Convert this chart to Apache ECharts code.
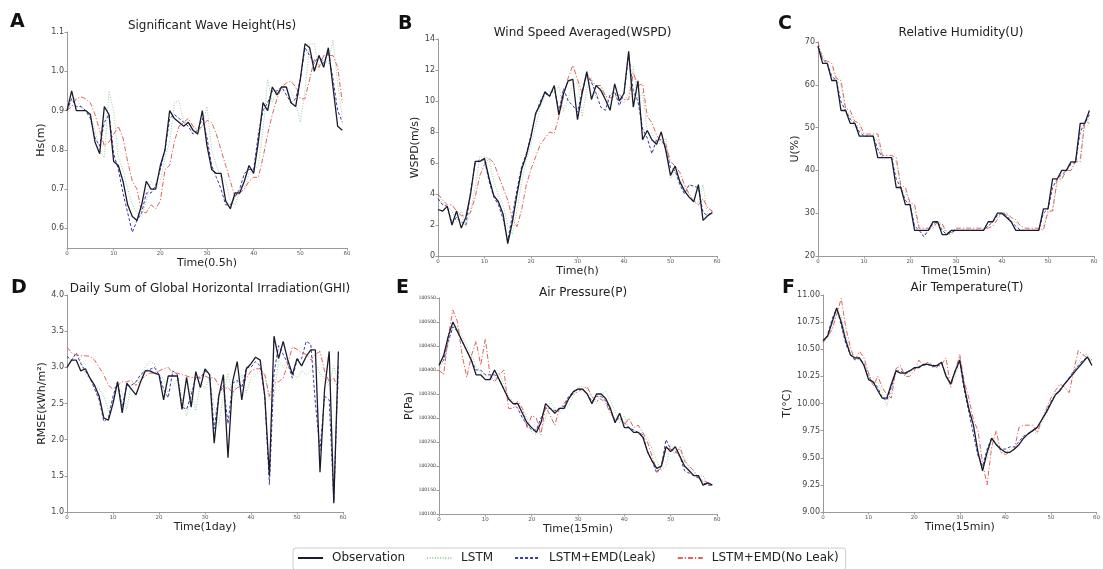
<!DOCTYPE html>
<html><head><meta charset="utf-8">
<script src="https://cdn.jsdelivr.net/npm/echarts@6/dist/echarts.min.js"></script>
<style>html,body{margin:0;padding:0;background:#fff}#c{width:1103px;height:569px}</style>
</head><body><div id="c"></div>
<script>
// ---------- data ----------
const seriesNames = ['Observation','LSTM','LSTM+EMD(Leak)','LSTM+EMD(No Leak)'];
const panelTitles = ['Significant Wave Height(Hs)','Wind Speed Averaged(WSPD)','Relative Humidity(U)','Daily Sum of Global Horizontal Irradiation(GHI)','Air Pressure(P)','Air Temperature(T)'];
const panelLetters = ['A','B','C','D','E','F'];
const xNames = ['Time(0.5h)','Time(h)','Time(15min)','Time(1day)','Time(15min)','Time(15min)'];
const yNames = ['Hs(m)','WSPD(m/s)','U(%)','RMSE(kWh/m\u00B2)','P(Pa)','T(\u00B0C)'];
const xTicks = [0,10,20,30,40,50,60];
const A_ticks = [0.6,0.7,0.8,0.9,1.0,1.1];

const A_obs = [0.90,0.95,0.90,0.90,0.90,0.89,0.82,0.79,0.91,0.89, 0.77,0.76,0.72,0.66,0.63,0.62,0.66,0.72,0.70,0.70, 0.76,0.80,0.90,0.88,0.87,0.86,0.87,0.85,0.84,0.90, 0.81,0.75,0.74,0.74,0.67,0.65,0.69,0.69,0.72,0.76, 0.74,0.82,0.92,0.90,0.96,0.94,0.96,0.96,0.92,0.91, 0.98,1.07,1.06,1.00,1.04,1.01,1.06,0.96,0.86,0.85];
const A_lstm = [0.89,0.93,0.93,0.91,0.90,0.89,0.85,0.80,0.78,0.95, 0.90,0.78,0.75,0.70,0.66,0.64,0.63,0.67,0.72,0.70, 0.72,0.78,0.82,0.92,0.925,0.87,0.87,0.86,0.84,0.86, 0.91,0.80,0.76,0.73,0.72,0.67,0.66,0.69,0.70,0.74, 0.75,0.76,0.85,0.98,0.92,0.95,0.96,0.96,0.95,0.92, 0.87,0.95,1.07,1.07,1.01,1.03,1.02,1.08,0.97,0.88];
const A_leak = [0.90,0.93,0.91,0.91,0.90,0.88,0.83,0.81,0.87,0.89, 0.79,0.75,0.69,0.64,0.59,0.62,0.64,0.69,0.69,0.71, 0.75,0.80,0.88,0.89,0.88,0.87,0.86,0.84,0.85,0.88, 0.83,0.76,0.73,0.70,0.66,0.66,0.68,0.70,0.74,0.75, 0.75,0.84,0.90,0.92,0.95,0.95,0.96,0.94,0.92,0.93, 0.98,1.06,1.04,1.02,1.04,1.02,1.05,0.98,0.90,0.87];
const A_noleak = [0.90,0.91,0.93,0.935,0.93,0.92,0.89,0.85,0.81,0.82, 0.84,0.86,0.83,0.77,0.72,0.70,0.64,0.64,0.66,0.65, 0.67,0.75,0.76,0.82,0.86,0.87,0.88,0.86,0.85,0.86, 0.875,0.87,0.84,0.80,0.76,0.72,0.68,0.69,0.70,0.72, 0.73,0.73,0.78,0.84,0.89,0.93,0.96,0.97,0.975,0.96, 0.93,0.93,0.98,1.03,1.01,1.04,1.04,1.04,1.01,0.92];

const B_obs = [3.0,2.9,3.2,2.0,2.9,1.8,2.5,4.0,6.1,6.1, 6.3,5.0,3.9,3.5,2.7,0.8,2.2,4.0,5.6,6.5, 7.7,9.2,9.8,10.6,10.3,11.0,9.1,10.5,11.3,11.4, 8.8,10.5,11.9,10.1,11.0,10.7,10.1,9.4,11.1,10.0, 10.5,13.2,9.6,11.3,7.5,8.1,7.5,7.2,8.0,6.8, 5.2,5.8,4.8,4.2,3.8,3.5,4.6,2.3,2.6,2.8];
const B_lstm = [3.8,3.4,3.2,2.9,2.2,2.9,1.9,2.9,4.4,6.4, 6.4,6.3,4.8,3.9,3.3,2.0,1.4,3.0,4.8,6.2, 7.2,8.4,9.6,10.3,10.6,10.5,11.0,9.3,10.2,11.0, 11.2,9.0,10.8,11.5,10.2,10.8,10.5,9.6,10.6,10.2, 9.9,10.5,12.2,9.8,10.6,8.0,7.9,7.4,7.2,7.6, 5.0,5.5,5.0,4.4,4.0,3.6,3.4,4.6,2.6,2.8];
const B_leak = [3.7,3.3,3.2,2.1,2.5,2.2,2.0,4.1,6.0,6.2, 6.2,4.8,3.8,3.3,2.4,1.0,2.6,4.3,5.8,6.6, 7.8,9.1,10.0,10.5,10.3,10.9,9.3,10.8,10.0,9.7, 9.3,10.6,11.7,11.2,10.5,9.6,9.4,10.4,10.6,9.7, 10.5,13.0,10.6,10.0,8.2,7.6,6.6,7.5,7.5,7.0, 5.7,5.5,4.6,4.0,4.6,4.5,4.4,2.8,2.6,2.9];
const B_noleak = [4.0,3.6,3.3,3.3,2.9,2.6,2.6,2.8,3.8,5.2, 5.9,6.3,6.0,5.2,4.4,3.6,2.4,1.9,3.0,4.6, 5.6,6.4,7.2,7.6,8.0,7.9,9.0,10.3,11.5,12.3, 11.4,10.5,11.8,11.3,11.0,11.0,10.3,10.2,10.3,10.4, 10.1,10.1,11.8,11.0,11.1,9.0,8.6,7.8,7.4,7.2, 6.1,5.8,5.4,4.6,4.0,3.5,3.3,3.7,3.1,2.9];

const C_obs = [69,65,65,61,61,54,54,51,51,48, 48,48,48,43,43,43,43,36,36,32, 32,26,26,26,26,28,28,25,25,26, 26,26,26,26,26,26,26,28,28,30, 30,29,28,26,26,26,26,26,26,31, 31,38,38,40,40,42,42,51,51,54];
const C_lstm = [69,67,65,64,61,60,54,53,51,50, 48,48,48,47,43,43,43,42,36,35, 32,31,26,25,26,27,28,27,25,25, 26,26,26,26,26,26,26,27,28,29, 30,30,28,28,26,26,26,26,26,27, 30,31,37,38,40,40,42,43,51,52];
const C_leak = [69,66,65,62,61,56,54,52,51,49, 48,48,48,45,43,43,43,38,36,33, 32,27,26,24.5,26,27.5,28,26,25,25.5, 26,26,26,26,26,26,26,27,28,29.5, 30,29.5,28,27,26,26,26,26,26,30, 31,36,38,39,40,41.5,42,49,51,53];
const C_noleak = [70,66,65.5,65,61.5,61,54.5,54,51.5,51, 48.5,48.5,48.5,48.5,43.5,43.5,43.5,43,36.5,36, 32.5,32,26.5,26.5,26.5,26.5,28,27.5,25.5,25.5, 26.5,26.5,26.5,26.5,26.5,26.5,26.5,26.5,27,28.5, 30,30,29,28.5,27,26.5,26.5,26.5,26.5,26, 30.5,30.5,38,38,40,40,42,42,51.5,51];

const D_obs = [3.0,3.1,3.1,2.95,2.98,2.85,2.75,2.6,2.3,2.27, 2.5,2.8,2.37,2.78,2.7,2.62,2.8,2.95,2.95,2.92, 2.9,2.55,2.88,2.88,2.88,2.42,2.86,2.45,2.94,2.72, 2.98,2.9,1.95,2.6,2.9,1.75,2.8,3.08,2.55,2.98, 3.05,3.14,3.1,2.6,1.5,3.43,3.12,3.36,3.1,2.9, 3.12,3.02,3.15,3.24,3.24,1.55,2.7,3.22,1.12,3.22];
const D_lstm = [3.1,3.1,3.2,3.1,2.9,2.85,2.75,2.7,2.6,2.4, 2.55,2.75,2.65,2.42,2.78,2.8,2.85,3.0,3.08,3.05, 2.9,2.85,2.65,2.72,2.85,2.6,2.32,2.7,2.4,2.8, 2.7,2.85,2.45,2.2,2.6,2.92,2.6,2.82,2.9,2.65, 2.85,2.9,2.95,2.9,2.55,2.6,3.1,3.0,3.1,2.92, 2.85,2.95,2.9,2.95,3.05,2.92,2.85,2.75,3.02,2.78];
const D_leak = [3.15,3.1,3.2,3.05,2.95,2.85,2.7,2.55,2.25,2.3, 2.6,2.8,2.45,2.75,2.75,2.8,2.9,2.95,2.97,3.0, 2.9,2.7,2.58,2.95,2.9,2.45,2.42,2.62,2.86,2.85, 2.95,2.9,2.15,2.62,2.75,2.22,2.78,2.82,2.72,3.0, 3.0,3.08,3.02,2.6,1.38,2.92,3.3,3.18,3.05,2.85, 3.1,3.12,3.36,3.32,2.5,1.85,2.6,2.55,1.15,3.05];
const D_noleak = [3.28,3.2,3.17,3.16,3.16,3.15,3.1,3.0,2.9,2.75, 2.7,2.75,2.8,2.8,2.82,2.75,2.82,2.88,2.92,2.92, 2.95,2.98,3.0,2.92,2.92,2.9,2.88,2.86,2.86,2.87, 2.88,2.85,2.86,2.75,2.7,2.72,2.65,2.72,2.75,2.85, 2.95,2.98,2.98,2.9,2.6,2.78,2.8,2.85,3.05,3.28, 3.25,3.2,3.18,3.1,3.18,3.22,2.95,2.8,2.85,2.7];

const E_obs = [100410,100430,100470,100500,100480,100460,100440,100420,100390,100390, 100380,100380,100400,100380,100360,100340,100330,100330,100310,100290, 100280,100270,100290,100330,100320,100310,100320,100320,100340,100355, 100360,100360,100350,100330,100350,100350,100340,100320,100290,100310, 100280,100280,100270,100270,100260,100230,100210,100195,100200,100240, 100230,100240,100220,100200,100190,100180,100180,100160,100165,100160];
const E_lstm = [100400,100420,100450,100490,100490,100470,100450,100430,100410,100395, 100390,100380,100380,100395,100370,100345,100335,100330,100320,100300, 100270,100265,100270,100300,100335,100320,100310,100320,100325,100345, 100365,100365,100360,100345,100330,100350,100355,100335,100315,100290, 100305,100280,100275,100270,100270,100260,100235,100210,100190,100200, 100245,100230,100235,100215,100195,100185,100180,100180,100160,100165];
const E_leak = [100410,100420,100460,100490,100480,100460,100440,100420,100400,100400, 100390,100390,100390,100380,100360,100340,100330,100320,100300,100285, 100275,100275,100300,100320,100320,100315,100320,100325,100345,100355, 100360,100360,100350,100335,100345,100345,100335,100315,100295,100300, 100290,100280,100275,100270,100265,100230,100210,100185,100200,100255, 100235,100230,100220,100190,100185,100180,100175,100165,100160,100160];
const E_noleak = [100400,100390,100470,100525,100500,100430,100385,100430,100460,100410, 100465,100390,100375,100390,100400,100320,100320,100335,100320,100280, 100305,100300,100265,100325,100305,100285,100320,100330,100345,100350, 100355,100360,100365,100345,100335,100340,100330,100310,100295,100310, 100285,100300,100280,100285,100270,100250,100220,100190,100195,100240, 100235,100225,100240,100210,100200,100190,100175,100170,100165,100160];

const F_obs = [10.58,10.62,10.75,10.88,10.75,10.58,10.45,10.42,10.42,10.35, 10.22,10.20,10.12,10.05,10.05,10.18,10.30,10.28,10.28,10.30, 10.33,10.33,10.36,10.36,10.35,10.35,10.38,10.25,10.18,10.30, 10.40,10.15,9.95,9.80,9.55,9.38,9.55,9.68,9.62,9.58, 9.55,9.55,9.58,9.62,9.68,9.72,9.75,9.78,9.85,9.92, 10.00,10.08,10.12,10.18,10.23,10.28,10.33,10.38,10.43,10.35];
const F_lstm = [10.57,10.60,10.72,10.85,10.80,10.62,10.48,10.42,10.40,10.38, 10.28,10.18,10.20,10.10,9.98,10.12,10.28,10.33,10.27,10.28, 10.33,10.35,10.35,10.38,10.33,10.36,10.37,10.28,10.17,10.24, 10.42,10.18,9.95,9.80,9.58,9.42,9.48,9.68,9.65,9.55, 9.55,9.58,9.60,9.62,9.68,9.73,9.75,9.72,9.83,9.90, 10.00,10.10,10.12,10.18,10.24,10.28,10.38,10.45,10.45,10.40];
const F_leak = [10.57,10.63,10.78,10.88,10.72,10.55,10.45,10.40,10.42,10.36, 10.24,10.20,10.15,10.05,10.03,10.15,10.30,10.30,10.27,10.30, 10.32,10.34,10.35,10.36,10.34,10.34,10.37,10.26,10.18,10.30, 10.38,10.12,9.92,9.72,9.52,9.42,9.58,9.68,9.62,9.58, 9.58,9.60,9.60,9.65,9.70,9.72,9.75,9.78,9.85,9.93, 10.02,10.08,10.13,10.18,10.24,10.30,10.35,10.40,10.42,10.38];
const F_noleak = [10.56,10.62,10.68,10.82,10.97,10.70,10.52,10.40,10.48,10.42, 10.28,10.16,10.25,10.15,10.08,10.05,10.32,10.35,10.25,10.25, 10.30,10.40,10.35,10.38,10.36,10.33,10.36,10.42,10.15,10.30, 10.45,10.20,10.05,9.85,9.75,9.45,9.25,9.60,9.75,9.55, 9.53,9.55,9.58,9.78,9.80,9.80,9.80,9.73,9.85,9.95, 10.05,10.12,10.18,10.15,10.10,10.30,10.49,10.45,10.42,10.40];

// ---------- layout / style ----------
const panels = [
  {d:[A_obs,A_lstm,A_leak,A_noleak], g:{left:67,top:32,width:280,height:216}, y:{min:0.55,max:1.1,custom:A_ticks,dec:1,fs:8}, ng:20, ty:15, lx:5, ly:8},
  {d:[B_obs,B_lstm,B_leak,B_noleak], g:{left:438,top:39,width:279,height:217}, y:{min:0,max:14,interval:2,dec:0,fs:8}, ng:14, ty:22, lx:393, ly:10},
  {d:[C_obs,C_lstm,C_leak,C_noleak], g:{left:818,top:42,width:276,height:214}, y:{min:20,max:70,interval:10,dec:0,fs:8}, ng:14, ty:22, lx:773, ly:10},
  {d:[D_obs,D_lstm,D_leak,D_noleak], g:{left:67,top:295,width:276,height:217}, y:{min:1,max:4,interval:0.5,dec:1,fs:8}, ng:18, ty:278, lx:6, ly:274},
  {d:[E_obs,E_lstm,E_leak,E_noleak], g:{left:439,top:298,width:278,height:216}, y:{min:100100,max:100550,interval:50,dec:0,fs:4.6}, ng:24, ty:282, lx:391, ly:274},
  {d:[F_obs,F_lstm,F_leak,F_noleak], g:{left:823,top:295,width:278,height:217}, y:{min:9,max:11,interval:0.25,dec:2,fs:8}, ng:30, ty:277, lx:777, ly:274}
];
const colors = ['#1b1b2b','#9fd09f','#3a3ab0','#e0645c'];
const widths = [1.3,1.0,1.0,1.0];
const types = ['solid',[1,1.6],[3,2],[5,2,1.2,2]];

const grid=[],xAxis=[],yAxis=[],series=[],title=[];
const axisCol = '#9a9a9a';
panels.forEach((p,i)=>{
  grid.push(Object.assign({},p.g));
  xAxis.push({type:'value',gridIndex:i,min:0,max:60,interval:10,
    name:xNames[i],nameLocation:'middle',nameGap:9,nameTextStyle:{fontSize:11,color:'#222',fontFamily:'DejaVu Sans'},
    axisLine:{onZero:false,lineStyle:{color:axisCol,width:1}},axisTick:{length:2.5,lineStyle:{color:axisCol}},
    axisLabel:{fontSize:5.5,color:'#555',margin:3,fontFamily:'DejaVu Sans'},splitLine:{show:false}});
  const ya = {type:'value',gridIndex:i,min:p.y.min,max:p.y.max,
    name:yNames[i],nameLocation:'middle',nameRotate:90,nameGap:p.ng,nameTextStyle:{fontSize:11,color:'#222',fontFamily:'DejaVu Sans'},
    axisLine:{show:true,onZero:false,lineStyle:{color:axisCol,width:1}},axisTick:{show:true,length:2.5,lineStyle:{color:axisCol}},
    axisLabel:{fontSize:p.y.fs,color:'#444',margin:3,fontFamily:'DejaVu Sans',formatter:v=>Number(v).toFixed(p.y.dec)},
    splitLine:{show:false}};
  if(p.y.custom){ ya.axisLabel.customValues=p.y.custom; ya.axisTick.customValues=p.y.custom; }
  else ya.interval=p.y.interval;
  yAxis.push(ya);
  title.push({text:panelTitles[i],left:p.g.left+p.g.width/2,top:p.ty,textAlign:'center',
    textStyle:{fontSize:12,fontWeight:'normal',color:'#222',fontFamily:'DejaVu Sans'}});
  title.push({text:panelLetters[i],left:p.lx,top:p.ly,
    textStyle:{fontSize:19,fontWeight:'bold',color:'#111',fontFamily:'DejaVu Sans'}});
  p.d.forEach((arr,k)=>{
    series.push({type:'line',name:seriesNames[k],xAxisIndex:i,yAxisIndex:i,symbol:'none',silent:true,
      data:arr.map((v,t)=>[t,v]),z:k===0?5:3,
      lineStyle:{color:colors[k],width:widths[k],type:types[k]},itemStyle:{color:colors[k]}});
  });
});

const chart = echarts.init(document.getElementById('c'),null,{renderer:'canvas'});
chart.setOption({
  animation:false,
  backgroundColor:'#fff',
  title, grid, xAxis, yAxis, series,
  legend:{data:seriesNames,left:293,top:548,padding:[4,7,6,4],itemGap:21,itemWidth:25,itemHeight:10,
    itemStyle:{opacity:0},
    borderColor:'#cccccc',borderWidth:1,borderRadius:3,
    textStyle:{fontSize:12,color:'#222',fontFamily:'DejaVu Sans',padding:[0,0,0,4]}}
});
</script></body></html>
